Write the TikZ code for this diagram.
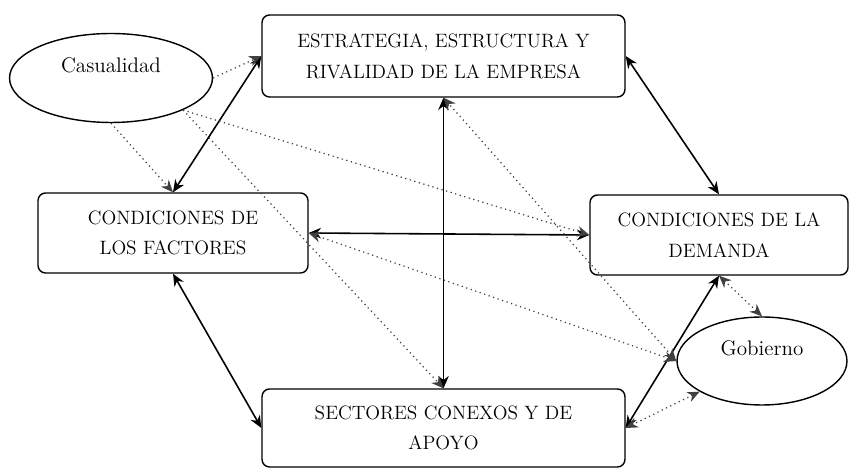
\documentclass[tikz,border=0pt]{standalone}
\usepackage{tikz}
\usetikzlibrary{shapes,positioning,arrows.meta}

\begin{document}
\begin{tikzpicture}[x=0.02cm, y=-0.02cm,
        box/.style={rectangle, rounded corners=0.15cm, draw=black, line width=0.8pt, align=center, font=\fontsize{11}{17.5}\selectfont},
        oval/.style={ellipse, draw=black, line width=0.8pt, font=\fontsize{12}{14}\selectfont, text height=0.25cm, text depth=0.45cm},
        arrow/.style={<->, >={Stealth[length=7pt,width=6pt]}, line width=0.9pt},
        dotline/.style={->, >={Stealth[length=7pt,width=6pt]}, dotted, line width=0.7pt, black!75},
        dotboth/.style={<->, >={Stealth[length=7pt,width=6pt]}, dotted, line width=0.7pt, black!75}
    ]
    \useasboundingbox (0,0) rectangle (850,469);

    % The four determinants (boxes)
    \node[box, minimum width=7.26cm, minimum height=1.64cm] (est) at (443.5,56) {ESTRATEGIA, ESTRUCTURA Y\\RIVALIDAD DE LA EMPRESA};
    \node[box, minimum width=5.4cm, minimum height=1.6cm] (fac) at (173,233) {CONDICIONES DE\\LOS FACTORES};
    \node[box, minimum width=5.16cm, minimum height=1.6cm] (dem) at (719,235) {CONDICIONES DE LA\\DEMANDA};
    \node[box, minimum width=7.26cm, minimum height=1.56cm] (sec) at (443.5,428) {SECTORES CONEXOS Y DE\\APOYO};

    % Outside variables (ellipses)
    \node[oval, minimum width=4.06cm, minimum height=1.78cm] (cas) at (111,78) {Casualidad};
    \node[oval, minimum width=3.4cm, minimum height=1.76cm] (gob) at (762,361) {Gobierno};

    % Solid links between determinants
    \draw[arrow] (est.west) -- (fac.north);
    \draw[arrow] (est.east) -- (dem.north);
    \draw[arrow] (est.south) -- (sec.north);
    \draw[arrow] (fac.east) -- (dem.west);
    \draw[arrow] (fac.south) -- (sec.west);
    \draw[arrow] (sec.east) -- (dem.south);

    % Casualidad acts on every determinant
    \draw[dotline] (cas.east) -- (est.west);
    \draw[dotline] (cas.south) -- (fac.north);
    \draw[dotline] (cas.-24) -- (sec.north);
    \draw[dotline] (cas.-24) -- (dem.west);

    % Gobierno and the determinants
    \draw[dotboth] (gob.west) -- (fac.east);
    \draw[dotboth] (gob.west) -- (est.south);
    \draw[dotboth] (gob.north) -- (dem.south);
    \draw[dotboth] (gob) -- (sec.east);

\end{tikzpicture}
\end{document}
